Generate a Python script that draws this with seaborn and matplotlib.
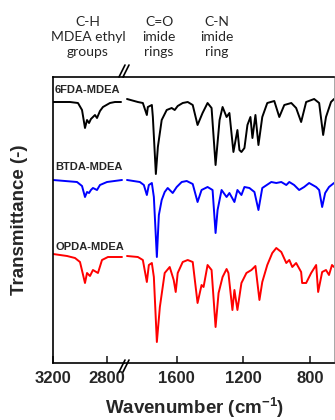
import numpy as np
import pandas as pd
import seaborn as sns
import matplotlib.pyplot as plt

# FTIR spectra (transmittance in arbitrary, stacked units)
# high-wavenumber segment (C-H region)
wn_6fda_left = [3200, 3074, 3015, 2985, 2963, 2948, 2933, 2919, 2904, 2889, 2874, 2852, 2830, 2778, 2741, 2696]
t_6fda_left = [261, 261, 260, 253, 235, 243, 240, 244, 246, 248, 245, 252, 256, 260, 261, 261]

wn_btda_left = [3200, 3022, 2985, 2963, 2948, 2933, 2919, 2904, 2889, 2874, 2852, 2800, 2689]
t_btda_left = [183, 181, 177, 166, 171, 170, 173, 175, 174, 173, 178, 181, 183]

wn_opda_left = [3200, 3096, 3037, 3000, 2963, 2948, 2926, 2904, 2867, 2837, 2793, 2689]
t_opda_left = [109, 107, 105, 101, 80, 90, 87, 93, 90, 103, 106, 106]

# fingerprint segment
wn_6fda_right = [1898, 1833, 1803, 1779, 1773, 1749, 1743, 1725, 1713, 1690, 1660, 1630, 1612, 1594,
                 1564, 1534, 1504, 1475, 1445, 1415, 1391, 1367, 1343, 1325, 1301, 1284, 1260, 1236,
                 1224, 1212, 1194, 1176, 1158, 1146, 1128, 1110, 1087, 1057, 1015, 985, 955, 913, 884,
                 854, 824, 776, 746, 722, 705, 675, 657]
t_6fda_right = [264, 261, 260, 248, 256, 258, 246, 189, 216, 243, 253, 255, 253, 257,
                260, 261, 258, 238, 250, 260, 255, 198, 243, 256, 246, 250, 211, 233,
                213, 211, 215, 238, 246, 225, 248, 218, 246, 260, 262, 246, 258, 260, 255,
                241, 261, 264, 260, 228, 246, 261, 264]

wn_btda_right = [1898, 1821, 1797, 1779, 1767, 1749, 1737, 1719, 1707, 1690, 1672, 1654, 1624, 1600,
                 1570, 1540, 1504, 1475, 1451, 1415, 1385, 1367, 1355, 1331, 1301, 1284, 1254, 1236,
                 1212, 1194, 1164, 1134, 1110, 1087, 1033, 1003, 973, 943, 925, 896, 866, 836, 806,
                 764, 746, 728, 710, 687, 657]
t_btda_right = [183, 181, 178, 168, 178, 180, 166, 106, 148, 163, 171, 175, 170, 176,
                181, 182, 179, 161, 173, 176, 173, 130, 153, 173, 166, 170, 161, 173,
                168, 176, 175, 171, 153, 175, 181, 180, 181, 178, 181, 178, 173, 176, 180,
                176, 173, 156, 170, 176, 180]

wn_opda_right = [1898, 1833, 1803, 1779, 1767, 1749, 1737, 1719, 1701, 1672, 1642, 1618, 1606, 1594,
                 1564, 1534, 1504, 1475, 1451, 1439, 1415, 1391, 1367, 1349, 1325, 1301, 1290, 1266,
                 1254, 1236, 1212, 1182, 1152, 1128, 1104, 1087, 1057, 1027, 1003, 973, 943, 925,
                 907, 884, 854, 848, 824, 794, 764, 752, 728, 705, 687, 669, 657]
t_opda_right = [107, 106, 103, 81, 98, 100, 86, 21, 56, 90, 96, 83, 71, 90,
                101, 103, 101, 60, 78, 76, 98, 93, 36, 70, 86, 94, 90, 53,
                73, 53, 80, 90, 93, 97, 63, 81, 98, 110, 115, 111, 100, 103,
                96, 100, 91, 80, 80, 90, 98, 71, 91, 93, 88, 98, 96]

names = ['6FDA-MDEA', 'BTDA-MDEA', 'OPDA-MDEA']
colors = ['black', '#0000ff', '#ff0000']
label_y = [273, 196, 116]
xticks_left = [3200, 2800]
xticks_right = [1600, 1200, 800]

sns.set_style('white')
plt.rcParams['font.family'] = ['Liberation Sans', 'DejaVu Sans']
plt.rcParams['mathtext.fontset'] = 'custom'
plt.rcParams['mathtext.bf'] = 'Liberation Sans:bold'
plt.rcParams['mathtext.rm'] = 'Liberation Sans:bold'

W, H = 335, 420
fig = plt.figure(figsize=(W / 100, H / 100), dpi=100)
bot, top = 363, 77
ax1 = fig.add_axes([53 / W, (H - bot) / H, (124 - 53) / W, (bot - top) / H])
ax2 = fig.add_axes([124 / W, (H - bot) / H, (334 - 124) / W, (bot - top) / H])

left = [(wn_6fda_left, t_6fda_left), (wn_btda_left, t_btda_left), (wn_opda_left, t_opda_left)]
right = [(wn_6fda_right, t_6fda_right), (wn_btda_right, t_btda_right), (wn_opda_right, t_opda_right)]
for (xl, yl), (xr, yr), c in zip(left, right, colors):
    sns.lineplot(x=xl, y=yl, ax=ax1, color=c, lw=1.4, solid_joinstyle='round')
    sns.lineplot(x=xr, y=yr, ax=ax2, color=c, lw=1.4, solid_joinstyle='round')

ax1.set_xlim(3200, 2674)
ax2.set_xlim(1916, 657)
for ax in (ax1, ax2):
    ax.set_ylim(0, 286)
    ax.set_yticks([])
    for s in ax.spines.values():
        s.set_color('black')
        s.set_linewidth(1.2)
    ax.tick_params(axis='x', direction='in', length=5, width=1.2, bottom=True,
                   labelsize=12, pad=6)
ax1.spines['right'].set_visible(False)
ax2.spines['left'].set_visible(False)
ax2.spines['right'].set_linewidth(0.6)
ax2.spines['right'].set_color('#999999')
ax1.set_xticks(xticks_left)
ax2.set_xticks(xticks_right)
ax1.set_xticklabels([str(v) for v in xticks_left], fontweight='bold')
ax2.set_xticklabels([str(v) for v in xticks_right], fontweight='bold')

for name, ly in zip(names, label_y):
    ax1.text(3185, ly, name, fontsize=8, fontweight='bold', va='center', ha='left')

# axis break marks
for yc in (71, 366):
    for dx in (-2, 2):
        x0, x1 = (124 + dx - 3) / W, (124 + dx + 3) / W
        y0, y1 = (H - yc - 6) / H, (H - yc + 6) / H
        fig.add_artist(plt.Line2D([x0, x1], [y0, y1], color='black', lw=1.2))

fig.text(195 / W, 1 - 408 / H, r'Wavenumber (cm$^{\mathbf{-1}}$)', fontsize=13.5,
         fontweight='bold', ha='center', va='center')
fig.text(20 / W, 1 - 220 / H, 'Transmittance (-)', fontsize=13.5, fontweight='bold',
         rotation=90, ha='center', va='center')

annot = [(88, 'C-H\nMDEA ethyl\ngroups'), (159, 'C=O\nimide\nrings'), (217, 'C-N\nimide\nring')]
for x, s in annot:
    fig.text(x / W, 1 - 37 / H, s, family=['Lato', 'DejaVu Sans'], fontsize=10,
             ha='center', va='center', multialignment='center', linespacing=1.25)

fig.savefig('out.png', dpi=100)
